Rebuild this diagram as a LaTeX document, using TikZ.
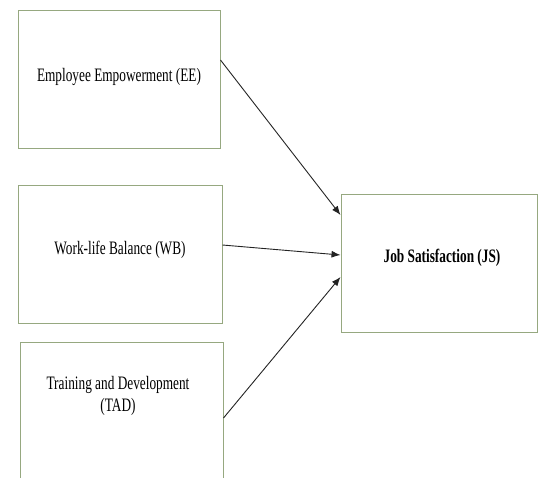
\documentclass[tikz,border=0pt]{standalone}
\usepackage{fontspec}
\usepackage{graphicx}
\setmainfont{Liberation Serif}
\usetikzlibrary{arrows.meta,calc}
\definecolor{boxline}{RGB}{150,168,128}
\definecolor{arrowline}{RGB}{35,35,35}
\newcommand{\narrow}[1]{\scalebox{0.7}[1]{#1}}
\tikzset{
  varbox/.style={draw=boxline, line width=1pt, fill=white, rectangle, inner sep=0pt,
    font=\fontsize{19}{24}\selectfont, align=center},
  link/.style={draw=arrowline, line width=0.9pt, -{Latex[length=9pt,width=7pt]}}
}
\begin{document}
\begin{tikzpicture}[x=1pt,y=-1pt]
\useasboundingbox (0,0) rectangle (538,477);
\node[varbox, minimum width=202pt, minimum height=138pt] (EE) at (119,79) {};
\node[varbox, minimum width=204pt, minimum height=138pt] (WB) at (120,254) {};
\node[varbox, minimum width=203pt, minimum height=160pt] (TAD) at (121.5,422) {};
\node[varbox, minimum width=196pt, minimum height=138pt] (JS) at (439,263) {};
\node (EEt) at (119,77) {\fontsize{19}{24}\selectfont\narrow{Employee Empowerment (EE)}};
\node (WBt) at (120,250) {\fontsize{19}{24}\selectfont\narrow{Work-life Balance (WB)}};
\node[align=center] (TADt) at (118,396) {\fontsize{19}{25}\selectfont\narrow{Training and Development}\\[4pt]\fontsize{19}{25}\selectfont\narrow{(TAD)}};
\node (JSt) at (442,258) {\fontsize{19}{24}\selectfont\bfseries\narrow{Job Satisfaction (JS)}};
\coordinate (s1) at (EE.east |- 0,60);
\coordinate (s2) at (WB.east |- 0,245);
\coordinate (s3) at (TAD.east |- 0,418);
\coordinate (e1) at (JS.west |- 0,215);
\coordinate (e2) at (JS.west |- 0,255);
\coordinate (e3) at (JS.west |- 0,277);
\draw[link] (s1) -- (e1);
\draw[link] (s2) -- (e2);
\draw[link] (s3) -- (e3);
\end{tikzpicture}
\end{document}
